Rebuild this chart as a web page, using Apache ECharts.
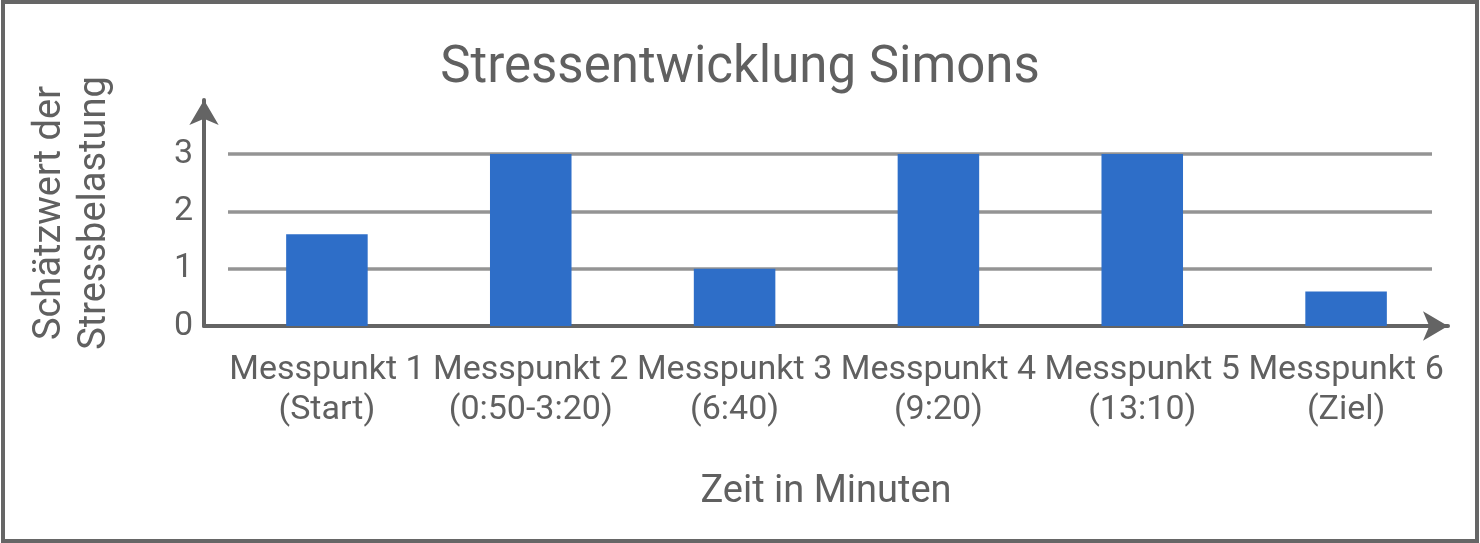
<!DOCTYPE html>
<html>
<head>
<meta charset="utf-8">
<script src="https://cdn.jsdelivr.net/npm/echarts@6/dist/echarts.min.js"></script>
<style>
  html, body { margin: 0; padding: 0; background: #ffffff; }
  #wrap { position: relative; width: 1480px; height: 543px; }
  #chart { position: absolute; left: 0; top: 0; width: 1480px; height: 543px; }
  #frame { position: absolute; left: 1px; top: 0; width: 1478px; height: 543px; box-sizing: border-box; border: 4px solid #666666; pointer-events: none; }
</style>
</head>
<body>
<div id="wrap">
  <div id="chart"></div>
  <div id="frame"></div>
</div>
<script>
const titleText = 'Stressentwicklung Simons';
const categories = [
  'Messpunkt 1\n(Start)',
  'Messpunkt 2\n(0:50-3:20)',
  'Messpunkt 3\n(6:40)',
  'Messpunkt 4\n(9:20)',
  'Messpunkt 5\n(13:10)',
  'Messpunkt 6\n(Ziel)'
];
const stressValues = [1.6, 3, 1, 3, 3, 0.6];
const yAxisName = 'Schätzwert der\nStressbelastung';
const xAxisName = 'Zeit in Minuten';
const yMin = 0, yMax = 3, yInterval = 1;

const textColor = '#606060';
const axisColor = '#646464';
const font = 'Roboto';

const chart = echarts.init(document.getElementById('chart'), null, { renderer: 'canvas' });
chart.setOption({
  backgroundColor: '#ffffff',
  animation: false,
  textStyle: { fontFamily: font, color: textColor },
  title: {
    text: titleText,
    left: 'center',
    top: 39,
    textStyle: { fontFamily: font, fontSize: 51, fontWeight: 'normal', color: textColor, lineHeight: 51 }
  },
  grid: [
    { left: 225, right: 32, top: 154, bottom: 217, containLabel: false },
    { left: 204, right: 32, top: 100, bottom: 217, containLabel: false },
    { left: 228, right: 48, top: 154, bottom: 217, containLabel: false }
  ],
  xAxis: [
    {
      type: 'category',
      gridIndex: 0,
      data: categories,
      axisLine: { show: false },
      axisTick: { show: false },
      axisLabel: {
        interval: 0,
        margin: 24,
        fontFamily: font,
        fontSize: 34,
        lineHeight: 40,
        color: textColor
      }
    },
    {
      type: 'value',
      gridIndex: 1,
      min: 0, max: 1,
      name: xAxisName,
      nameLocation: 'middle',
      nameGap: 147,
      nameTextStyle: { fontFamily: font, fontSize: 38, lineHeight: 38, color: textColor },
      axisLine: {
        show: true,
        lineStyle: { color: axisColor, width: 4 },
        symbol: ['none', 'arrow'],
        symbolSize: [22, 25],
        symbolOffset: [0, 0]
      },
      axisTick: { show: false },
      axisLabel: { show: false },
      splitLine: { show: false }
    },
    {
      type: 'value',
      gridIndex: 2,
      min: 0, max: 1,
      show: false
    }
  ],
  yAxis: [
    {
      type: 'value',
      gridIndex: 0,
      min: yMin, max: yMax, interval: yInterval,
      axisLine: { show: false },
      axisTick: { show: false },
      axisLabel: { margin: 32, fontFamily: font, fontSize: 34, color: textColor },
      splitLine: { show: false }
    },
    {
      type: 'value',
      gridIndex: 1,
      min: 0, max: 1,
      name: yAxisName,
      nameLocation: 'middle',
      nameGap: 86,
      nameTextStyle: { fontFamily: font, fontSize: 38, lineHeight: 45, color: textColor, align: 'center' },
      axisLine: {
        show: true,
        lineStyle: { color: axisColor, width: 4 },
        symbol: ['none', 'arrow'],
        symbolSize: [22, 25],
        symbolOffset: [0, 0]
      },
      axisTick: { show: false },
      axisLabel: { show: false },
      splitLine: { show: false }
    },
    {
      type: 'value',
      gridIndex: 2,
      min: yMin, max: yMax, interval: yInterval,
      axisLine: { show: false },
      axisTick: { show: false },
      axisLabel: { show: false },
      splitLine: { show: true, lineStyle: { color: '#949494', width: 3.5 } }
    }
  ],
  series: [
    {
      type: 'bar',
      xAxisIndex: 0,
      yAxisIndex: 0,
      data: stressValues,
      barWidth: '40%',
      itemStyle: { color: '#2e6ec8' },
      z: 3
    }
  ]
});
</script>
</body>
</html>
